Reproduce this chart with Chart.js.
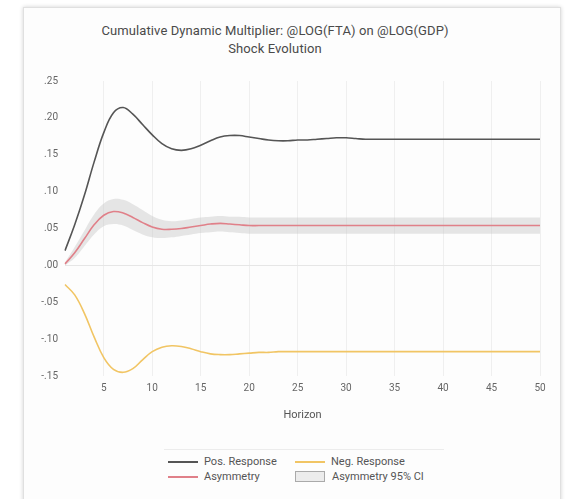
<!DOCTYPE html>
<html>
<head>
<meta charset="utf-8">
<script src="https://cdn.jsdelivr.net/npm/chart.js@4/dist/chart.umd.min.js"></script>
<style>
  html, body { margin: 0; padding: 0; background: #ffffff; width: 575px; height: 499px; overflow: hidden; font-family: Roboto, "Open Sans", sans-serif; }
  #card { position: absolute; left: 23px; top: 7px; width: 536px; height: 500px; background: #fdfdfd; border: 1px solid #e0e0e0; box-shadow: 0 0 4px rgba(0,0,0,0.18); }
  #title { position: absolute; left: -23px; top: 14px; width: 548px; text-align: center; font-size: 13px; line-height: 18px; font-weight: 400; letter-spacing: 0.1px; color: #4a4a4a; }
  #wrap { position: absolute; left: 0; top: 53px; width: 536px; height: 380px; }
  #legend { position: absolute; left: 140px; top: 441px; width: 276px; height: 36px; border-top: 1px solid #ececec; padding: 4px 0 0 4px; display: grid; grid-template-columns: 127px auto; grid-auto-rows: 15px; font-size: 11px; color: #555; }
  .item { display: flex; align-items: center; white-space: nowrap; }
  .sw-line { width: 30px; height: 2px; margin-right: 6px; }
  .sw-box { width: 30px; height: 11px; box-sizing: border-box; border: 1px solid #aaa; margin-right: 7px; }
</style>
</head>
<body>
<div id="card">
  <div id="title">Cumulative Dynamic Multiplier: @LOG(FTA) on @LOG(GDP)<br>Shock Evolution</div>
  <div id="wrap"><canvas id="c" width="536" height="380"></canvas></div>
  <div id="legend"></div>
</div>
<script>
// Horizons 1..50
const horizons = [1,2,3,4,5,6,7,8,9,10,11,12,13,14,15,16,17,18,19,20,21,22,23,24,25,26,27,28,29,30,31,32,33,34,35,36,37,38,39,40,41,42,43,44,45,46,47,48,49,50];

// Cumulative response to a positive shock
const posResponse = [0.020,0.055,0.095,0.140,0.180,0.207,0.214,0.205,0.191,0.177,0.165,0.158,0.156,0.158,0.163,0.169,0.174,0.176,0.176,0.174,0.172,0.170,0.169,0.169,0.170,0.170,0.171,0.172,0.173,0.173,0.172,0.171,0.171,0.171,0.171,0.171,0.171,0.171,0.171,0.171,0.171,0.171,0.171,0.171,0.171,0.171,0.171,0.171,0.171,0.171];

// Cumulative response to a negative shock
const negResponse = [-0.026,-0.040,-0.065,-0.097,-0.125,-0.141,-0.145,-0.140,-0.128,-0.117,-0.111,-0.109,-0.110,-0.113,-0.117,-0.120,-0.121,-0.121,-0.120,-0.119,-0.118,-0.118,-0.117,-0.117,-0.117,-0.117,-0.117,-0.117,-0.117,-0.117,-0.117,-0.117,-0.117,-0.117,-0.117,-0.117,-0.117,-0.117,-0.117,-0.117,-0.117,-0.117,-0.117,-0.117,-0.117,-0.117,-0.117,-0.117,-0.117,-0.117];

// Asymmetry (positive minus absolute negative) and its 95% band
const asymmetry = [0.002,0.017,0.036,0.055,0.068,0.073,0.071,0.065,0.058,0.052,0.049,0.049,0.050,0.052,0.054,0.056,0.057,0.056,0.055,0.054,0.054,0.054,0.054,0.054,0.054,0.054,0.054,0.054,0.054,0.054,0.054,0.054,0.054,0.054,0.054,0.054,0.054,0.054,0.054,0.054,0.054,0.054,0.054,0.054,0.054,0.054,0.054,0.054,0.054,0.054];
const asymUpper = [0.004,0.025,0.047,0.069,0.084,0.090,0.089,0.083,0.075,0.067,0.062,0.060,0.061,0.063,0.065,0.066,0.067,0.066,0.066,0.065,0.065,0.065,0.065,0.065,0.065,0.065,0.065,0.065,0.065,0.065,0.065,0.065,0.065,0.065,0.065,0.065,0.065,0.065,0.065,0.065,0.065,0.065,0.065,0.065,0.065,0.065,0.065,0.065,0.065,0.065];
const asymLower = [0.000,0.010,0.026,0.042,0.053,0.056,0.054,0.048,0.042,0.038,0.037,0.038,0.040,0.042,0.044,0.045,0.046,0.045,0.044,0.043,0.043,0.043,0.043,0.043,0.043,0.043,0.043,0.043,0.043,0.043,0.043,0.043,0.043,0.043,0.043,0.043,0.043,0.043,0.043,0.043,0.043,0.043,0.043,0.043,0.043,0.043,0.043,0.043,0.043,0.043];

// Y axis ticks
const yTicks = [-0.15,-0.10,-0.05,0.00,0.05,0.10,0.15,0.20,0.25];

const POS_COLOR = '#555555';
const NEG_COLOR = '#f1c564';
const ASYM_COLOR = '#e08089';
const CI_FILL = 'rgba(200,200,200,0.45)';

function fmt(v) {
  const s = Math.abs(v).toFixed(2).replace(/^0/, '');
  return (v < -1e-9 ? '-' : '') + s;
}

const chart = new Chart(document.getElementById('c'), {
  type: 'line',
  data: {
    labels: horizons,
    datasets: [
      { label: 'Pos. Response', data: posResponse, borderColor: POS_COLOR, borderWidth: 1.6, pointRadius: 0, tension: 0.4, fill: false, order: 0, swatch: 'line' },
      { label: 'Neg. Response', data: negResponse, borderColor: NEG_COLOR, borderWidth: 1.6, pointRadius: 0, tension: 0.4, fill: false, order: 0, swatch: 'line' },
      { label: 'Asymmetry', data: asymmetry, borderColor: ASYM_COLOR, borderWidth: 1.6, pointRadius: 0, tension: 0.4, fill: false, order: 1, swatch: 'line' },
      { label: 'Asymmetry 95% CI', data: asymUpper, borderColor: 'rgba(0,0,0,0)', borderWidth: 0, backgroundColor: CI_FILL, pointRadius: 0, tension: 0.4, fill: '+1', order: 5, swatch: 'box' },
      { label: '', data: asymLower, borderColor: 'rgba(0,0,0,0)', borderWidth: 0, pointRadius: 0, tension: 0.4, fill: false, order: 5, swatch: null }
    ]
  },
  options: {
    responsive: false,
    animation: false,
    events: [],
    layout: { padding: { left: 0, right: 20, top: 20, bottom: 0 } },
    plugins: { legend: { display: false }, title: { display: false }, tooltip: { enabled: false } },
    scales: {
      x: {
        type: 'category',
        offset: false,
        border: { display: false },
        grid: {
          drawTicks: false,
          color: (ctx) => (ctx.tick && horizons[ctx.index] % 5 === 0) ? '#efefef' : 'rgba(0,0,0,0)'
        },
        ticks: {
          autoSkip: false,
          maxRotation: 0,
          padding: 6,
          color: '#666',
          font: { family: 'Roboto', size: 10 },
          callback: (val, i) => (horizons[i] % 5 === 0 ? String(horizons[i]) : '')
        },
        title: { display: true, text: 'Horizon', color: '#555', font: { family: 'Roboto', size: 11 }, padding: { top: 0, bottom: 19 } },
        afterFit: (scale) => { scale.height = 65; }
      },
      y: {
        min: yTicks[0],
        max: yTicks[yTicks.length - 1],
        border: { display: false },
        afterBuildTicks: (scale) => { scale.ticks = yTicks.map(v => ({ value: v })); },
        grid: {
          drawTicks: false,
          color: (ctx) => (ctx.tick && Math.abs(ctx.tick.value) < 1e-9) ? '#e6e6e6' : 'rgba(0,0,0,0)'
        },
        ticks: {
          padding: 7,
          color: '#666',
          font: { family: 'Roboto', size: 10 },
          callback: (v) => fmt(v)
        },
        afterFit: (scale) => { scale.width = 41; }
      }
    }
  }
});

// Legend built from the chart's datasets, laid out in two columns
const legendEl = document.getElementById('legend');
chart.data.datasets.forEach(ds => {
  if (!ds.label) return;
  const item = document.createElement('div');
  item.className = 'item';
  const sw = document.createElement('span');
  if (ds.swatch === 'box') {
    sw.className = 'sw-box';
    sw.style.background = '#ececec';
  } else {
    sw.className = 'sw-line';
    sw.style.background = ds.borderColor;
  }
  const tx = document.createElement('span');
  tx.textContent = ds.label;
  item.appendChild(sw);
  item.appendChild(tx);
  legendEl.appendChild(item);
});
</script>
</body>
</html>
